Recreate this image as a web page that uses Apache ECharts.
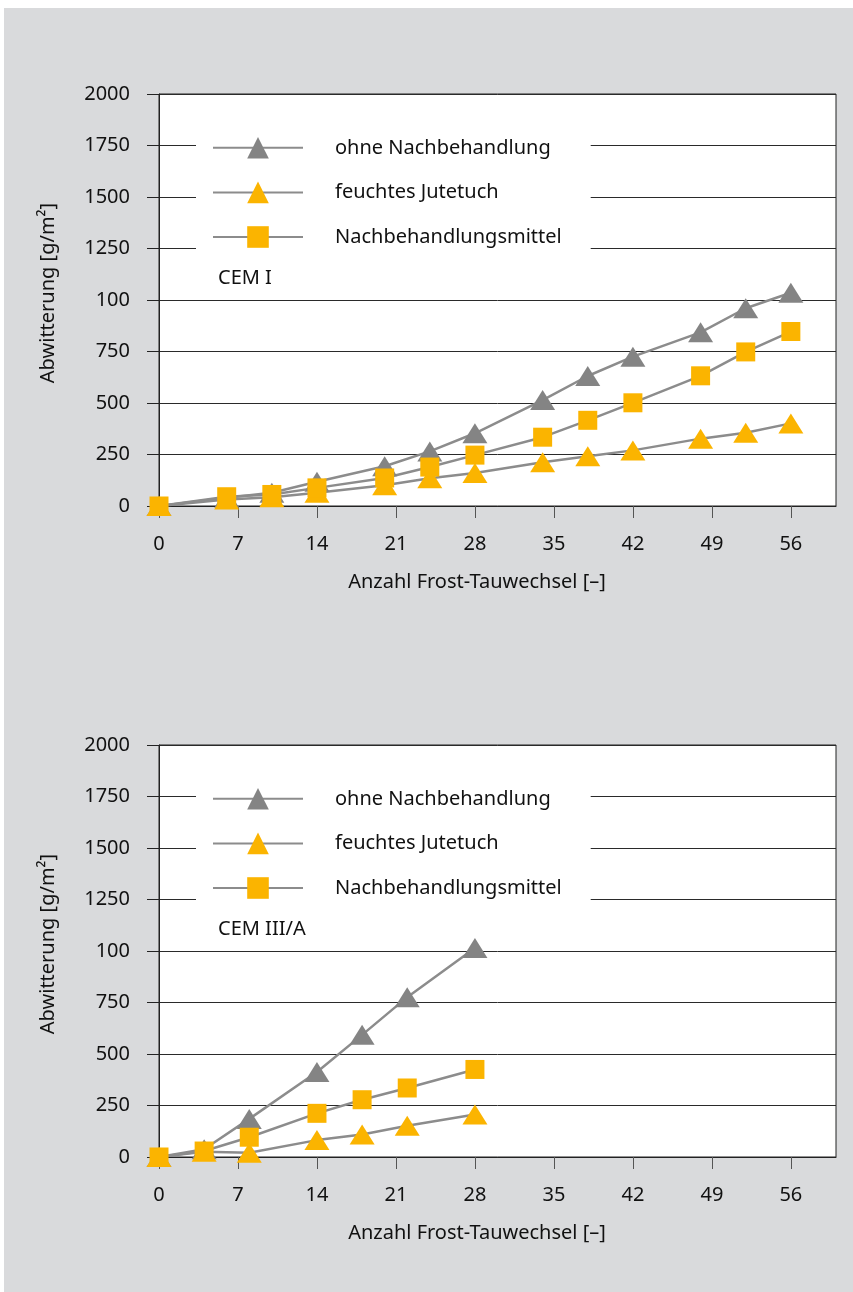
<!DOCTYPE html>
<html>
<head>
<meta charset="utf-8">
<script src="https://cdn.jsdelivr.net/npm/echarts@6/dist/echarts.min.js"></script>
<style>
html,body{margin:0;padding:0;background:#ffffff;}
#panel{position:absolute;left:4px;top:8px;width:849px;height:1284px;background:#d9dadc;}
#chart{position:absolute;left:0;top:0;width:853px;height:1292px;}
</style>
</head>
<body>
<div id="panel"></div>
<div id="chart"></div>
<script>
// ---- data ----
const seriesNames = ['ohne Nachbehandlung', 'feuchtes Jutetuch', 'Nachbehandlungsmittel'];
const xTickValues = [0, 7, 14, 21, 28, 35, 42, 49, 56];
const yTickLabels = ['0', '250', '500', '750', '100', '1250', '1500', '1750', '2000'];

const cem1X = [0, 6, 10, 14, 20, 24, 28, 34, 38, 42, 48, 52, 56];
const cem1Ohne = [0, 40, 64, 118, 193, 265, 353, 514, 631, 725, 843, 960, 1035];
const cem1Jute = [0, 32, 43, 64, 101, 135, 160, 212, 241, 270, 327, 356, 401];
const cem1Mittel = [0, 45, 56, 88, 136, 189, 247, 334, 416, 501, 632, 748, 847];

const cem3X = [0, 4, 8, 14, 18, 22, 28];
const cem3Ohne = [0, 38, 185, 413, 593, 776, 1015];
const cem3Jute = [0, 25, 21, 82, 109, 152, 206];
const cem3Mittel = [0, 29, 96, 212, 278, 335, 425];

const panelTitles = ['CEM I', 'CEM III/A'];

// ---- styles ----
const FONT = 'Noto Sans';
const GRAY = '#848484';
const ORANGE = '#fbb400';
const LINE = '#8c8c8c';

function pairs(xs, ys) { return xs.map((x, i) => [x, ys[i]]); }

const gridTops = [94, 745];
const gridH = 412;

const grids = gridTops.map(t => ({
  left: 159, right: 17, top: t, height: gridH,
  show: true, backgroundColor: '#ffffff', borderColor: '#222', borderWidth: 1
}));

const xAxes = [0, 1].map(i => ({
  type: 'value', gridIndex: i, min: 0, max: 60,
  name: 'Anzahl Frost-Tauwechsel [–]', nameLocation: 'middle', nameGap: 66,
  nameTextStyle: { fontFamily: FONT, fontSize: 20, color: '#111', padding: [0, 41, 0, 0] },
  axisLine: { show: true, lineStyle: { color: '#222', width: 1 } },
  axisTick: { show: true, length: 12, customValues: xTickValues, lineStyle: { color: '#555' } },
  axisLabel: { customValues: xTickValues, fontFamily: FONT, fontSize: 20, color: '#111', margin: 28 },
  splitLine: { show: false }
}));

const yAxes = [0, 1].map(i => ({
  type: 'value', gridIndex: i, min: 0, max: 2000, interval: 250,
  name: 'Abwitterung [g/m²]', nameLocation: 'middle', nameGap: 101, nameRotate: 90,
  nameTextStyle: { fontFamily: FONT, fontSize: 20, color: '#111', padding: [0, 0, 0, 14] },
  axisLine: { show: true, lineStyle: { color: '#222', width: 1 } },
  axisTick: { show: true, length: 12, lineStyle: { color: '#222' } },
  axisLabel: {
    fontFamily: FONT, fontSize: 20, color: '#111', margin: 29,
    formatter: v => yTickLabels[Math.round(v / 250)]
  },
  splitLine: { show: true, lineStyle: { color: '#2a2a2a', width: 1 } }
}));

const sets = [
  [cem1X, cem1Ohne, cem1Jute, cem1Mittel],
  [cem3X, cem3Ohne, cem3Jute, cem3Mittel]
];

const series = [];
sets.forEach((s, gi) => {
  const xs = s[0];
  const defs = [
    { name: seriesNames[0], data: s[1], symbol: 'triangle', size: [25, 20], color: GRAY },
    { name: seriesNames[1], data: s[2], symbol: 'triangle', size: [25, 20], color: ORANGE },
    { name: seriesNames[2], data: s[3], symbol: 'rect', size: [19, 19], color: ORANGE }
  ];
  defs.forEach(d => {
    series.push({
      type: 'line', name: d.name, xAxisIndex: gi, yAxisIndex: gi,
      data: pairs(xs, d.data),
      symbol: d.symbol, symbolSize: d.size, showSymbol: true,
      lineStyle: { color: LINE, width: 2.5 },
      itemStyle: { color: d.color, opacity: 1 },
      emphasis: { disabled: true },
      animation: false, z: 3
    });
  });
});

const legends = gridTops.map((t, i) => ({
  data: seriesNames,
  orient: 'vertical',
  left: 196, top: t + 21,
  padding: [22, 29, 36, 16],
  backgroundColor: '#ffffff',
  itemWidth: 90, itemHeight: 27, itemGap: 23,
  selectedMode: false,
  textStyle: { fontFamily: FONT, fontSize: 20, color: '#111', padding: [0, 0, 0, 27] },
  z: 4
}));

const titles = gridTops.map((t, i) => ({
  text: panelTitles[i], left: 218, top: t + 174,
  textStyle: { fontFamily: FONT, fontSize: 20, fontWeight: 'normal', color: '#111' },
  padding: 0, z: 10
}));

const chart = echarts.init(document.getElementById('chart'), null, { renderer: 'canvas' });
chart.setOption({
  backgroundColor: 'transparent',
  animation: false,
  title: titles,
  legend: legends,
  grid: grids,
  xAxis: xAxes,
  yAxis: yAxes,
  series: series
});
</script>
</body>
</html>
